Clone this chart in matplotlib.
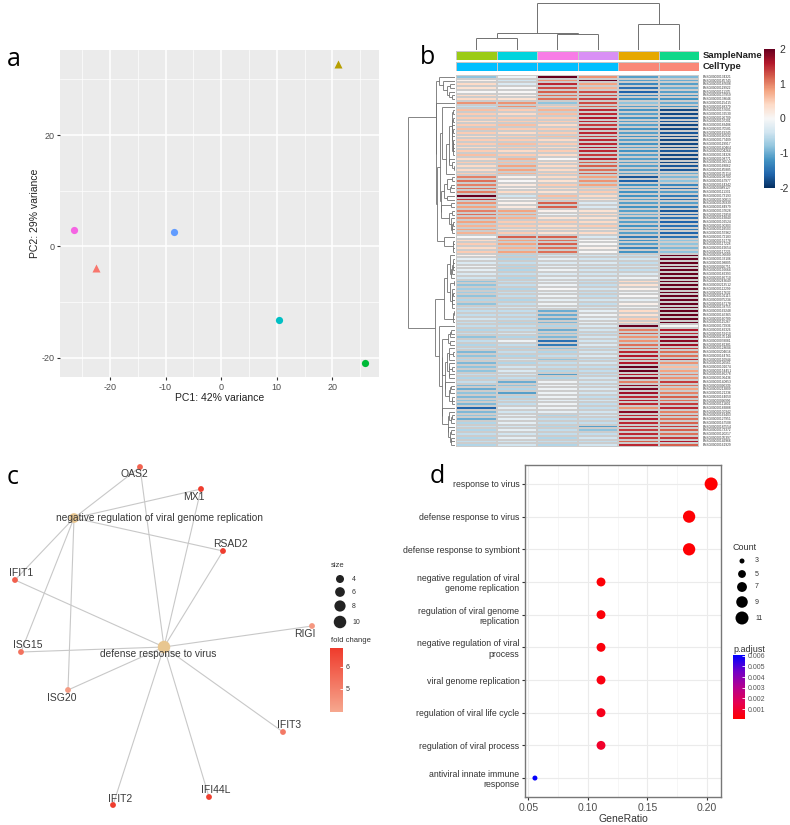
import numpy as np
import matplotlib
matplotlib.use("Agg")
import matplotlib.pyplot as plt
from matplotlib.collections import LineCollection
from matplotlib.colors import LinearSegmentedColormap, ListedColormap, Normalize
from matplotlib.cm import ScalarMappable

plt.rcParams["font.family"] = ["Liberation Sans", "DejaVu Sans"]
plt.rcParams["axes.unicode_minus"] = False

W, H = 790, 825

# ---- panel a: PCA ----
pca_pc1 = [-26.4, -22.6, -8.4, 10.45, 20.95, 25.8]
pca_pc2 = [2.9, -3.9, 2.6, -13.3, 32.8, -21.0]
pca_colors = ["#F564E3", "#F8766D", "#619CFF", "#00BFC4", "#B79F00", "#00BA38"]
pca_markers = ["o", "^", "o", "o", "^", "o"]

# ---- panel b: heatmap (row z-scores, top to bottom) ----
sample_colors = ["#9BCB16", "#00D4DD", "#F87CE6", "#D990F5", "#E6A800", "#10D88A"]
cell_type = [0, 0, 0, 0, 1, 1]
cell_type_colors = ["#00BFFF", "#FA8878"]
# column dendrogram as a linkage table: (left, right, height); ids >= 6 are earlier merges
col_linkage = [(0, 1, 12), (2, 3, 16), (6, 7, 17), (4, 5, 26), (8, 9, 47)]
zscores = np.array([
    (-0.8, -0.1, 2.0, 0.9, -1.1, -0.9), (0.1, -0.4, 0.9, 2.0, -1.1, -1.0),
    (0.4, -0.3, 1.5, 0.8, -1.3, -1.1), (0.3, 0.0, 1.3, 0.7, -1.5, -1.0),
    (0.0, 0.0, 1.2, 1.3, -1.6, -1.1), (0.4, 0.1, 1.1, 1.3, -1.3, -1.2),
    (0.4, 0.3, 1.1, 1.4, -1.2, -1.2), (0.9, 0.9, -0.8, 1.3, -0.8, -1.0),
    (-0.5, 0.9, 0.5, 1.2, -1.1, -1.2),
    (0.6, 0.5, 0.7, 1.5, -1.2, -1.8), (0.5, 0.4, 0.6, 1.5, -1.1, -1.8),
    (0.5, 0.5, 0.5, 1.6, -1.2, -1.7), (0.4, 0.5, 0.5, 1.5, -1.1, -1.7),
    (0.5, 0.6, 0.4, 1.4, -1.1, -1.8), (0.6, 0.5, 0.5, 1.5, -1.2, -1.8),
    (0.5, 0.4, 0.5, 1.5, -1.1, -1.7), (0.4, 0.5, 0.6, 1.4, -1.2, -1.8),
    (0.5, 0.5, 0.4, 1.5, -1.1, -1.8), (0.5, 0.6, 0.5, 1.5, -1.2, -1.8),
    (0.4, 0.5, 0.4, 1.6, -1.1, -1.8), (0.5, 0.4, 0.5, 1.5, -1.2, -1.7),
    (0.6, 0.5, 0.4, 1.4, -1.1, -1.8), (0.4, 0.7, 0.0, 1.5, -1.1, -1.8),
    (0.5, 0.6, 0.4, 1.2, -1.1, -1.8), (0.4, 0.8, 0.4, 1.2, -1.1, -1.7),
    (0.4, 0.8, 0.4, 1.1, -1.1, -1.7), (0.5, 0.7, 0.5, 1.2, -1.1, -1.0),
    (1.0, 0.1, 0.4, 0.8, -1.7, -0.9), (1.1, 0.0, 0.3, 0.9, -1.6, -0.8),
    (1.0, 0.2, 0.5, 0.8, -1.2, -1.3), (1.1, 0.1, 0.4, 0.5, -1.1, -1.5),
    (1.0, 0.4, 0.3, 0.5, -1.2, -1.1), (2.0, -0.4, 0.6, 0.4, -1.2, -1.4),
    (1.4, 0.0, 0.5, 0.3, -1.1, -1.5), (0.9, 0.1, 1.2, -0.3, -1.1, -1.1),
    (0.8, 0.2, 1.2, -0.3, -1.2, -1.4), (1.0, 0.8, 0.1, 0.3, -1.1, -1.7),
    (1.1, 0.8, -0.1, 0.4, -1.0, -1.6), (0.9, 0.7, 0.3, 0.3, -1.1, -1.5),
    (0.8, 0.5, 0.5, 0.4, -1.1, -1.6), (0.7, 0.5, 0.4, 0.5, -1.2, -1.5),
    (0.8, 0.4, 0.4, 0.3, -1.1, -1.4), (0.7, 0.5, 0.3, 0.4, -1.1, -1.6),
    (0.0, 1.2, 1.2, -0.3, -1.4, -1.5), (0.4, 0.8, 1.1, 0.0, -1.2, -0.8),
    (0.5, 0.8, 1.2, 0.0, -1.1, -0.8), (0.4, 0.7, 1.1, 0.1, -1.3, -0.9),
    (0.5, 0.8, 1.1, 0.0, -1.2, -0.8),
    (0.1, -0.6, -0.4, -0.4, -0.5, 2.0), (-0.2, -0.6, -0.2, -0.4, -0.4, 2.0),
    (-0.3, -0.5, -0.3, -0.3, -0.5, 2.0), (-0.1, -0.6, -0.2, -0.4, -0.4, 2.0),
    (-0.2, -0.6, -0.1, -0.4, -0.5, 2.0), (-0.3, -0.5, -0.3, -0.4, -0.3, 2.0),
    (-0.4, -0.6, -0.2, -0.3, -0.1, 2.0), (-0.8, -0.5, -0.2, -0.5, 0.4, 2.0),
    (-0.8, -0.5, -0.1, -0.5, 0.3, 2.0), (-0.7, -0.6, 0.0, -0.4, 0.1, 2.0),
    (-0.7, -0.5, -0.2, -0.5, -0.1, 2.0), (-0.8, -0.5, -0.1, -0.5, 0.0, 2.0),
    (-0.6, -0.6, -0.2, -0.4, -0.2, 2.0), (-0.8, -0.5, -0.1, -0.5, 0.1, 2.0),
    (-0.5, -0.4, -0.2, -0.4, -0.1, 2.0), (-0.5, -0.5, -1.0, -0.2, 0.4, 2.0),
    (-0.5, -0.5, -1.0, -0.1, 0.3, 2.0), (-0.4, -0.5, -1.0, -0.2, 0.5, 2.0),
    (-0.5, -0.6, -0.9, -0.2, 0.4, 2.0),
    (-0.5, -0.5, -0.6, -0.3, 2.0, 0.0),
    (-0.6, -0.5, -1.0, -0.4, 1.0, 1.6), (-0.5, -0.4, -0.8, -0.5, 1.2, 1.5),
    (-0.8, -0.6, -0.9, -0.4, 0.9, 1.8), (-0.5, -0.1, -1.5, -0.4, 0.9, 1.8),
    (-0.6, -0.5, -1.4, -0.3, 1.1, 1.7), (-0.5, -0.6, -0.8, -0.5, 1.2, 1.4),
    (-0.9, -0.5, -0.6, -0.4, 1.5, 1.1), (-0.8, -0.6, -0.5, -0.3, 1.6, 1.1),
    (-0.6, -0.4, -0.8, -0.5, 1.4, 1.5), (-0.9, -0.6, -0.5, -0.4, 1.6, 0.9),
    (-0.8, -0.4, -0.5, -0.5, 2.0, 0.6), (-0.8, -0.3, -0.6, -0.5, 2.0, 0.8),
    (-0.5, -0.4, -1.1, -0.5, 1.6, 1.0), (-0.6, -0.5, -0.6, -0.4, 1.8, 0.9),
    (-0.5, -1.0, -0.1, -0.4, 1.0, 1.4), (-0.9, -0.8, -0.1, -0.4, 1.8, 1.1),
    (-1.0, -0.6, -0.1, -0.3, 1.9, 0.8), (-0.8, -1.1, -0.1, -0.4, 1.7, 1.0),
    (-0.9, -0.6, -0.1, -0.5, 1.5, 1.2), (-0.8, -0.5, -0.2, -0.4, 1.6, 1.1),
    (-0.9, -0.5, -0.1, -0.5, 1.5, 1.4), (-1.6, -0.2, -0.1, -0.5, 0.9, 1.5),
    (-0.9, -0.4, -0.2, -0.4, 1.8, 1.0), (-0.8, -0.2, -0.6, -0.4, 1.5, 1.2),
    (-1.0, -0.2, -0.5, -0.5, 1.6, 1.1), (-0.6, -0.2, -0.5, -0.5, 1.5, 1.2),
    (-0.5, -0.4, -0.6, -1.1, 1.5, 1.4), (-0.6, -0.2, -0.5, -0.8, 1.4, 1.2),
    (-0.5, -0.4, -0.5, -0.5, 1.5, 1.1), (-0.6, -0.2, -0.6, -0.4, 1.4, 1.4),
    (-0.5, -0.4, -0.5, -0.5, 1.2, 1.6), (-0.6, -0.4, -0.6, -0.4, 1.5, 1.2),
])
gene_ids = ["ENSG00000" + s for s in """
134321 185745 187608 119922 111335 137959 138646 115415 188379 157601
132530 126709 107201 183486 170581 169245 160932 177409 119917 140464
204264 134326 108771 136514 168062 185885 135114 108700 167977 164342
089127 111331 173193 130813 105939 184979 137628 121858 163840 102524
130303 118503 155962 172183 152778 117228 162654 117226 136689 133106
198805 026751 196664 182393 166710 243649 213512 112299 117632 101115
075234 167178 138755 169248 145365 160789 115267 172936 182326 159110
135148 078081 181381 128604 204616 164761 110944 126561 101074 154451
166278 136436 140853 090339 213809 121236 164050 096996 111801 183888
100342 169403 127951 167508 187554 173372 120217 105397 146966 161929
""".split()]

# ---- panel c: gene-concept network ----
net_terms = ["negative regulation of viral genome replication", "defense response to virus"]
net_genes = ["OAS2", "MX1", "RSAD2", "IFIT1", "RIGI", "ISG15", "ISG20", "IFIT3", "IFI44L", "IFIT2"]
net_fold_change = [5.8, 6.8, 6.8, 5.9, 4.4, 5.4, 4.3, 5.2, 6.7, 6.8]
term_genes = {
    "negative regulation of viral genome replication": ["OAS2", "MX1", "RSAD2", "IFIT1", "ISG15", "ISG20"],
    "defense response to virus": ["OAS2", "MX1", "RSAD2", "IFIT1", "RIGI", "ISG15", "ISG20", "IFIT3", "IFI44L", "IFIT2"],
}
# layout (x right, y down), as produced by the graph layout
term_x, term_y = [74, 164], [518, 647]
gene_x = [140, 201, 223, 15, 312, 21, 68, 283, 209, 113]
gene_y = [467, 489, 551, 580, 626, 652, 690, 732, 797, 805]

# ---- panel d: GO dot plot ----
go_terms = ["response to virus", "defense response to virus", "defense response to symbiont",
            "negative regulation of viral\ngenome replication", "regulation of viral genome\nreplication",
            "negative regulation of viral\nprocess", "viral genome replication",
            "regulation of viral life cycle", "regulation of viral process",
            "antiviral innate immune\nresponse"]
go_count = [11, 10, 10, 6, 6, 6, 6, 6, 6, 3]
go_padj = [0.00010, 0.00015, 0.00015, 0.00020, 0.00025, 0.00030, 0.00040, 0.00060, 0.00090, 0.00600]
n_genes = 54


def box(l, t, r, b):
    return [l / W, 1 - b / H, (r - l) / W, (b - t) / H]


def pt2(diam_px):
    return (diam_px * 0.72) ** 2


def size_scale(v, lo, hi, d0, d1):
    t = (np.asarray(v, float) - lo) / (hi - lo)
    return np.sqrt(d0 ** 2 + t * (d1 ** 2 - d0 ** 2))


def adjacent_linkage(mat):
    groups = [[i] for i in range(len(mat))]
    pos = [i + 0.5 for i in range(len(mat))]
    hts = [0.0] * len(mat)
    segs = []
    while len(groups) > 1:
        d = [np.mean(np.linalg.norm(mat[groups[k]][:, None, :] - mat[groups[k + 1]][None, :, :], axis=2))
             for k in range(len(groups) - 1)]
        k = int(np.argmin(d))
        h = max(d[k], hts[k], hts[k + 1]) + 1e-3
        segs += [[(pos[k], hts[k]), (pos[k], h)], [(pos[k + 1], hts[k + 1]), (pos[k + 1], h)],
                 [(pos[k], h), (pos[k + 1], h)]]
        groups[k:k + 2] = [groups[k] + groups[k + 1]]
        pos[k:k + 2] = [(pos[k] + pos[k + 1]) / 2]
        hts[k:k + 2] = [h]
    return segs, hts[0]


def linkage_segments(linkage, n):
    pos = {i: i + 0.5 for i in range(n)}
    hts = {i: 0.0 for i in range(n)}
    segs = []
    for j, (a, b, h) in enumerate(linkage):
        segs += [[(pos[a], hts[a]), (pos[a], h)], [(pos[b], hts[b]), (pos[b], h)], [(pos[a], h), (pos[b], h)]]
        pos[n + j] = (pos[a] + pos[b]) / 2
        hts[n + j] = h
    return segs, linkage[-1][2]


fig = plt.figure(figsize=(W / 100, H / 100), dpi=100)

# ================= a =================
ax = fig.add_axes(box(60, 50, 379, 377))
ax.set_facecolor("#EBEBEB")
for x, y, c, m in zip(pca_pc1, pca_pc2, pca_colors, pca_markers):
    ax.plot(x, y, marker=m, color=c, ms=5.2, mec="none", zorder=3)
ax.set_xlim(-29.0, 28.4)
ax.set_ylim(-23.5, 35.3)
ax.set_xticks([-20, -10, 0, 10, 20])
ax.set_xticks([-25, -15, -5, 5, 15, 25], minor=True)
ax.set_yticks([-20, 0, 20])
ax.set_yticks([-10, 10, 30], minor=True)
ax.grid(which="major", color="white", lw=1.1)
ax.grid(which="minor", color="white", lw=0.5)
ax.set_axisbelow(True)
for s in ax.spines.values():
    s.set_visible(False)
ax.tick_params(which="major", length=2.5, color="#333333", labelsize=6.5, labelcolor="#4D4D4D", pad=1.5)
ax.tick_params(which="minor", length=0)
ax.set_xlabel("PC1: 42% variance", fontsize=7.5, color="#222222", labelpad=1)
ax.set_ylabel("PC2: 29% variance", fontsize=7.5, color="#222222", labelpad=1)

# ================= b =================
n_rows, n_cols = zscores.shape
axh = fig.add_axes(box(456, 75, 699, 447))
axh.pcolormesh(np.arange(n_cols + 1), np.arange(n_rows + 1), zscores, cmap="RdBu_r", vmin=-2, vmax=2,
               edgecolors="#CCCCCC", linewidth=0.12)
axh.set_xlim(0, n_cols)
axh.set_ylim(n_rows, 0)
axh.axis("off")
for i, gid in enumerate(gene_ids):
    axh.text(n_cols + 0.1, i + 0.5, gid, fontsize=2.3, va="center", ha="left", color="#333333", clip_on=False)

segs, root = adjacent_linkage(zscores)
axr = fig.add_axes(box(408, 75, 455, 447))
axr.add_collection(LineCollection([[(h, p) for p, h in s] for s in segs], colors="#707070", lw=0.6))
axr.set_xlim(root, 0)
axr.set_ylim(n_rows, 0)
axr.axis("off")

csegs, croot = linkage_segments(col_linkage, n_cols)
axcd = fig.add_axes(box(456, 3, 699, 50))
axcd.add_collection(LineCollection(csegs, colors="#707070", lw=0.7))
axcd.set_xlim(0, n_cols)
axcd.set_ylim(0, croot)
axcd.axis("off")

for (t, b), vals, cols, name in [((51, 60), np.arange(n_cols), sample_colors, "SampleName"),
                                 ((62, 71), np.array(cell_type), cell_type_colors, "CellType")]:
    axa = fig.add_axes(box(456, t, 699, b))
    axa.pcolormesh(np.arange(n_cols + 1), [0, 1], vals[None, :], cmap=ListedColormap(cols),
                   vmin=-0.5, vmax=len(cols) - 0.5, edgecolors="#C8C8C8", linewidth=0.4)
    axa.set_xlim(0, n_cols)
    axa.axis("off")
    axa.text(n_cols + 0.1, 0.5, name, fontsize=6.8, fontweight="bold", va="center", ha="left", color="#222222")

cax = fig.add_axes(box(764, 49, 775, 188))
cb = fig.colorbar(ScalarMappable(Normalize(-2, 2), "RdBu_r"), cax=cax, ticks=[-2, -1, 0, 1, 2])
cb.outline.set_visible(False)
cax.tick_params(length=0, labelsize=7.5, labelcolor="#333333", pad=3)

# ================= c =================
axc = fig.add_axes(box(0, 450, 400, 825))
axc.set_xlim(0, 400)
axc.set_ylim(825, 450)
axc.axis("off")
gx = dict(zip(net_genes, gene_x))
gy = dict(zip(net_genes, gene_y))
lines = []
for tx, ty, term in zip(term_x, term_y, net_terms):
    for g in term_genes[term]:
        lines.append([(tx, ty), (gx[g], gy[g])])
axc.add_collection(LineCollection(lines, colors="#C8C8C8", lw=0.8, zorder=1))
fc_cmap = LinearSegmentedColormap.from_list("fc", ["#F6A88F", "#EF3B2C"])
fc_norm = Normalize(3.95, 6.86)
axc.scatter(gene_x, gene_y, s=pt2(5.8), c=net_fold_change, cmap=fc_cmap, norm=fc_norm, lw=0, zorder=3)
term_size = [len(term_genes[t]) for t in net_terms]
axc.scatter(term_x, term_y, s=pt2(size_scale(term_size, 4, 10, 8, 12.5)), color="#E8C690", lw=0, zorder=3)
gene_label_offset = {"OAS2": (-6, 7), "MX1": (-7, 8), "RSAD2": (7, -7), "IFIT1": (6, -7), "RIGI": (-7, 8),
                     "ISG15": (7, -7), "ISG20": (-6, 8), "IFIT3": (6, -7), "IFI44L": (7, -7), "IFIT2": (7, -6)}
for g in net_genes:
    dx, dy = gene_label_offset[g]
    axc.text(gx[g] + dx, gy[g] + dy, g, fontsize=7.5, ha="center", va="center", color="#3A3A3A", zorder=4)
term_label_offset = [(86, 0), (-6, 7)]
for tx, ty, term, (dx, dy) in zip(term_x, term_y, net_terms, term_label_offset):
    axc.text(tx + dx, ty + dy, term, fontsize=7.3, ha="center", va="center", color="#3A3A3A", zorder=4)

# size legend
axc.text(331, 565, "size", fontsize=5.5, color="#333333", va="center", ha="left")
leg_sizes = [4, 6, 8, 10]
leg_y = [579, 592, 606, 622]
axc.scatter([340] * 4, leg_y, s=pt2(size_scale(leg_sizes, 4, 10, 8, 12.5)), color="#222222", lw=0)
for v, y in zip(leg_sizes, leg_y):
    axc.text(352, y, str(v), fontsize=5, color="#333333", va="center", ha="left")
axc.text(331, 640, "fold change", fontsize=5.5, color="#333333", va="center", ha="left")
cax2 = fig.add_axes(box(330, 648, 343, 712))
cb2 = fig.colorbar(ScalarMappable(fc_norm, fc_cmap), cax=cax2, ticks=[5, 6])
cb2.outline.set_visible(False)
cax2.tick_params(length=2.5, width=0.6, color="white", direction="in", labelsize=5, labelcolor="#333333", pad=2)

# ================= d =================
axd = fig.add_axes(box(525, 465, 721, 797))
ypos = np.arange(len(go_terms))
ratio = np.array(go_count) / n_genes
padj_cmap = LinearSegmentedColormap.from_list("padj", ["#FF0000", "#E6004F", "#B4008F", "#7000C8", "#0000FF"])
padj_norm = Normalize(0.00007, 0.00607)
axd.scatter(ratio, ypos, s=pt2(size_scale(go_count, 3, 11, 5, 13)), c=go_padj, cmap=padj_cmap,
            norm=padj_norm, lw=0, zorder=3)
axd.set_xlim(0.0472, 0.212)
axd.set_ylim(len(go_terms) - 0.42, -0.58)
axd.set_xticks([0.05, 0.10, 0.15, 0.20])
axd.set_xticklabels(["0.05", "0.10", "0.15", "0.20"])
axd.set_xticks([0.075, 0.125, 0.175], minor=True)
axd.set_yticks(ypos)
axd.set_yticklabels(go_terms)
axd.grid(which="major", color="#EBEBEB", lw=0.8)
axd.grid(which="minor", axis="x", color="#F3F3F3", lw=0.5)
axd.set_axisbelow(True)
for s in axd.spines.values():
    s.set_color("#777777")
    s.set_linewidth(1.0)
axd.tick_params(which="major", length=2.5, color="#333333", labelsize=6.3, labelcolor="#333333", pad=1.5)
axd.tick_params(axis="x", labelsize=7.5, labelcolor="#4D4D4D")
axd.tick_params(which="minor", length=0)
axd.set_xlabel("GeneRatio", fontsize=7.5, color="#333333", labelpad=1)

# count legend
axl = fig.add_axes(box(725, 540, 790, 640))
axl.set_xlim(725, 790)
axl.set_ylim(640, 540)
axl.axis("off")
axl.text(733, 548, "Count", fontsize=6.5, color="#333333", va="center", ha="left")
leg_counts = [3, 5, 7, 9, 11]
leg_cy = [561, 574, 587, 602, 618]
axl.scatter([742] * 5, leg_cy, s=pt2(size_scale(leg_counts, 3, 11, 5, 13)), color="black", lw=0)
for v, y in zip(leg_counts, leg_cy):
    axl.text(755, y, str(v), fontsize=5, color="#333333", va="center", ha="left")
fig.text(733 / W, 1 - 649 / H, "p.adjust", fontsize=6.5, color="#333333", va="center", ha="left")
cax3 = fig.add_axes(box(733, 655, 745, 719))
cb3 = fig.colorbar(ScalarMappable(padj_norm, padj_cmap), cax=cax3,
                   ticks=[0.001, 0.002, 0.003, 0.004, 0.005, 0.006])
cb3.outline.set_visible(False)
cax3.set_yticklabels(["0.001", "0.002", "0.003", "0.004", "0.005", "0.006"])
cax3.tick_params(length=2.5, width=0.6, color="white", direction="in", labelsize=5, labelcolor="#555555", pad=2)

# panel letters
for (x, y), letter in zip([(7, 60), (420, 58), (7, 478), (430, 477)], "abcd"):
    fig.text(x / W, 1 - y / H, letter, fontsize=18, family=["Open Sans", "DejaVu Sans"],
             va="center", ha="left", color="black")

fig.savefig("out.png", dpi=100)
